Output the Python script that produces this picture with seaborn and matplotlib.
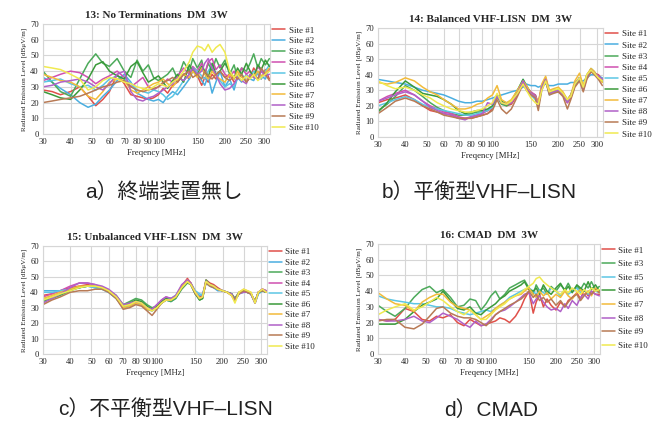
import pandas as pd
import matplotlib
matplotlib.use('Agg')
import matplotlib.pyplot as plt
from matplotlib.ticker import FixedLocator, FixedFormatter, NullLocator
import seaborn as sns

# frequency points [MHz]
freq = [30, 33, 36, 40, 44, 48, 52, 56, 60, 65,
        70, 75, 80, 85, 90, 95, 100, 105, 110, 116,
        122, 130, 138, 143, 150, 157, 162, 168, 175, 182,
        190, 200, 210, 220, 228, 238, 250, 260, 270, 282,
        292, 305, 318]

site_names = ['Site #1', 'Site #2', 'Site #3', 'Site #4', 'Site #5',
              'Site #6', 'Site #7', 'Site #8', 'Site #9', 'Site #10']
site_colors = ['#e0504a', '#4aaee0', '#4caa5a', '#d050b0', '#5cc6e4',
               '#3a9a3a', '#f2bb3a', '#b060c8', '#b87a55', '#f0ea50']

x_ticks = [30, 40, 50, 60, 70, 80, 90, 100, 150, 200, 250, 300]

titles = ['13: No Terminations  DM  3W', '14: Balanced VHF-LISN  DM  3W',
          '15: Unbalanced VHF-LISN  DM  3W', '16: CMAD  DM  3W']
captions = ['a）終端装置無し', 'b）平衡型VHF–LISN', 'c）不平衡型VHF–LISN', 'd）CMAD']

# 13: no terminations
a1 = [28, 27, 25, 27, 30, 24, 18, 22, 27, 38, 32, 25, 24, 23, 22, 23, 25, 29, 26, 31,
      33, 38, 35, 41, 37, 31, 36, 33, 38, 35, 40, 36, 38, 33, 35, 38, 33, 36, 42, 38, 35, 41, 35]
a2 = [36, 33, 29, 25, 20, 17, 19, 24, 28, 34, 38, 33, 26, 24, 22, 21, 22, 20, 24, 27,
      25, 30, 35, 40, 38, 34, 31, 37, 26, 33, 40, 30, 35, 28, 36, 33, 38, 35, 34, 40, 37, 35, 42]
a3 = [40, 33, 27, 24, 35, 45, 51, 45, 43, 48, 40, 36, 47, 40, 44, 36, 34, 36, 38, 42,
      35, 46, 40, 48, 42, 47, 38, 45, 40, 48, 42, 47, 38, 44, 36, 42, 40, 45, 51, 42, 48, 44, 48]
a4 = [34, 36, 38, 40, 39, 36, 32, 35, 37, 40, 36, 30, 33, 36, 30, 28, 30, 32, 35, 33,
      37, 42, 38, 43, 40, 45, 38, 46, 48, 41, 44, 38, 36, 40, 35, 42, 38, 40, 36, 43, 40, 38, 41]
a5 = [33, 34, 35, 32, 30, 31, 28, 31, 35, 37, 35, 32, 28, 27, 26, 28, 27, 25, 22, 24,
      28, 34, 38, 42, 40, 37, 35, 40, 44, 38, 34, 30, 32, 30, 36, 38, 34, 36, 40, 38, 35, 40, 44]
a6 = [27, 25, 23, 22, 28, 35, 44, 46, 40, 37, 35, 43, 46, 39, 33, 35, 37, 33, 29, 34,
      38, 33, 44, 40, 38, 43, 40, 36, 45, 38, 40, 45, 40, 35, 42, 38, 45, 40, 36, 44, 41, 47, 43]
a7 = [38, 36, 34, 33, 30, 24, 22, 27, 33, 35, 34, 28, 26, 28, 30, 32, 33, 35, 32, 30,
      34, 38, 36, 40, 36, 42, 38, 35, 40, 37, 35, 33, 38, 35, 40, 36, 34, 38, 36, 40, 37, 39, 42]
a8 = [30, 31, 33, 34, 35, 33, 30, 28, 32, 38, 40, 27, 22, 21, 23, 24, 26, 28, 30, 32,
      36, 34, 38, 42, 38, 40, 45, 48, 42, 38, 32, 28, 29, 32, 36, 34, 32, 38, 36, 35, 40, 37, 38]
a9 = [20, 21, 22, 23, 24, 26, 28, 30, 31, 33, 34, 30, 28, 27, 28, 29, 30, 33, 34, 36,
      33, 38, 40, 36, 38, 35, 40, 37, 35, 38, 40, 36, 34, 37, 35, 38, 33, 36, 38, 35, 42, 38, 34]
a10 = [43, 42, 41, 38, 35, 28, 30, 34, 36, 35, 33, 32, 30, 29, 28, 30, 32, 31, 30, 33,
       35, 40, 46, 52, 56, 55, 53, 57, 52, 55, 57, 52, 40, 36, 38, 34, 37, 35, 38, 34, 36, 38, 40]

# 14: balanced VHF-LISN
b1 = [22, 24, 25, 27, 24, 20, 17, 16, 15, 14, 12, 12, 12, 13, 14, 15, 18, 26, 22, 20,
      21, 27, 35, 32, 28, 27, 22, 32, 36, 28, 29, 29, 27, 22, 25, 33, 37, 30, 38, 42, 41, 40, 37]
b2 = [37, 36, 35, 34, 32, 30, 29, 28, 27, 25, 23, 22, 22, 23, 23, 24, 25, 26, 27, 28,
      29, 30, 32, 34, 33, 33, 32, 33, 34, 33, 33, 34, 34, 34, 35, 35, 36, 36, 38, 40, 40, 39, 38]
b3 = [17, 21, 26, 33, 30, 26, 22, 19, 17, 15, 14, 14, 15, 16, 16, 17, 19, 26, 21, 20,
      22, 29, 36, 32, 28, 27, 19, 33, 38, 28, 29, 30, 28, 23, 26, 33, 38, 32, 39, 44, 42, 38, 36]
b4 = [23, 26, 28, 30, 27, 23, 20, 18, 16, 15, 13, 12, 13, 14, 15, 17, 19, 27, 23, 21,
      22, 28, 36, 32, 29, 27, 21, 33, 37, 29, 29, 30, 28, 23, 26, 34, 38, 31, 39, 43, 41, 39, 37]
b5 = [20, 22, 24, 26, 24, 21, 19, 18, 17, 16, 15, 14, 14, 15, 16, 17, 19, 27, 23, 22,
      23, 29, 37, 33, 27, 24, 20, 31, 37, 27, 29, 30, 27, 23, 27, 34, 38, 31, 39, 43, 41, 38, 36]
b6 = [16, 22, 29, 36, 32, 28, 27, 26, 24, 21, 17, 15, 16, 17, 17, 18, 20, 27, 23, 21,
      23, 30, 37, 33, 28, 26, 20, 32, 37, 29, 30, 30, 28, 24, 27, 34, 38, 32, 40, 43, 41, 38, 36]
b7 = [35, 34, 35, 38, 36, 32, 29, 27, 24, 21, 18, 18, 19, 21, 22, 25, 27, 33, 24, 22,
      24, 30, 36, 33, 28, 26, 22, 34, 39, 30, 31, 32, 29, 24, 27, 36, 41, 33, 40, 44, 42, 38, 35]
b8 = [23, 25, 27, 29, 27, 23, 19, 17, 15, 14, 12, 11, 13, 14, 15, 22, 21, 26, 22, 21,
      22, 28, 36, 31, 28, 26, 20, 32, 37, 28, 29, 30, 27, 22, 26, 34, 38, 31, 39, 43, 41, 39, 37]
b9 = [15, 19, 23, 25, 23, 20, 18, 16, 14, 13, 12, 12, 12, 13, 14, 15, 17, 24, 18, 15,
      18, 26, 34, 30, 27, 25, 17, 30, 36, 27, 28, 29, 26, 18, 24, 32, 36, 29, 37, 42, 40, 37, 33]
b10 = [36, 33, 31, 32, 30, 27, 25, 22, 20, 18, 17, 16, 16, 17, 18, 20, 22, 28, 22, 21,
       23, 28, 34, 30, 25, 22, 21, 30, 36, 29, 30, 31, 28, 24, 26, 34, 38, 32, 40, 43, 41, 38, 36]

# 15: unbalanced VHF-LISN
c1 = [38, 39, 41, 43, 44, 45, 44, 43, 41, 37, 31, 32, 34, 33, 30, 29, 31, 34, 36, 36,
      37, 44, 49, 46, 40, 37, 38, 48, 46, 45, 43, 41, 40, 39, 36, 40, 41, 40, 39, 34, 40, 42, 41]
c2 = [41, 41, 41, 42, 43, 44, 43, 42, 40, 36, 30, 31, 33, 32, 29, 28, 30, 33, 35, 34,
      36, 43, 47, 45, 39, 38, 39, 46, 44, 43, 41, 41, 40, 39, 35, 39, 41, 40, 39, 33, 39, 41, 40]
c3 = [34, 36, 38, 41, 43, 44, 44, 43, 41, 38, 32, 34, 36, 35, 32, 30, 31, 33, 35, 34,
      36, 42, 46, 45, 39, 35, 36, 48, 45, 44, 42, 41, 40, 39, 36, 40, 41, 40, 39, 34, 40, 41, 40]
c4 = [37, 39, 41, 44, 46, 46, 45, 43, 41, 37, 31, 32, 34, 33, 30, 29, 32, 35, 37, 36,
      37, 44, 48, 46, 40, 36, 37, 47, 45, 44, 42, 41, 40, 38, 35, 39, 41, 40, 39, 33, 40, 42, 40]
c5 = [40, 40, 41, 42, 43, 44, 43, 42, 40, 36, 30, 31, 33, 32, 29, 28, 30, 33, 36, 36,
      38, 44, 47, 46, 41, 39, 38, 46, 44, 43, 42, 41, 40, 39, 35, 39, 40, 40, 39, 33, 39, 41, 40]
c6 = [35, 37, 39, 42, 43, 44, 44, 43, 41, 37, 31, 33, 35, 34, 31, 29, 31, 34, 36, 35,
      37, 43, 47, 45, 39, 35, 36, 47, 45, 44, 42, 41, 40, 39, 35, 39, 41, 40, 39, 34, 40, 41, 40]
c7 = [36, 38, 40, 42, 44, 44, 44, 43, 41, 36, 30, 31, 33, 32, 29, 28, 30, 33, 35, 35,
      37, 44, 48, 46, 40, 36, 37, 47, 45, 44, 42, 41, 40, 38, 34, 40, 42, 41, 40, 33, 40, 42, 40]
c8 = [33, 36, 39, 43, 46, 46, 45, 44, 42, 38, 32, 33, 34, 33, 30, 29, 32, 35, 37, 36,
      38, 45, 48, 46, 40, 36, 37, 47, 45, 44, 42, 41, 40, 39, 35, 39, 40, 40, 39, 33, 40, 42, 41]
c9 = [32, 35, 37, 40, 41, 41, 42, 42, 40, 36, 29, 30, 32, 31, 28, 25, 29, 33, 35, 35,
      37, 43, 47, 45, 39, 36, 37, 46, 44, 43, 42, 41, 40, 38, 35, 39, 41, 40, 39, 34, 40, 41, 40]
c10 = [35, 37, 39, 41, 43, 44, 44, 43, 41, 37, 31, 32, 34, 33, 30, 28, 30, 33, 35, 35,
       37, 43, 47, 45, 40, 36, 37, 47, 45, 44, 42, 41, 40, 38, 33, 40, 42, 41, 40, 33, 40, 42, 40]

# 16: CMAD (sites 2 and 4 not measured)
d1 = [22, 21, 22, 29, 27, 22, 21, 24, 23, 25, 20, 18, 22, 20, 18, 19, 20, 21, 23, 22,
      20, 24, 30, 35, 40, 26, 33, 38, 30, 35, 31, 28, 33, 30, 34, 36, 39, 35, 41, 37, 40, 38, 38]
d3 = [31, 27, 24, 29, 36, 41, 43, 39, 41, 36, 30, 31, 35, 34, 28, 32, 37, 40, 35, 38,
      42, 44, 46, 47, 42, 38, 44, 40, 42, 38, 43, 40, 44, 41, 45, 40, 43, 41, 45, 42, 46, 41, 43]
d5 = [37, 35, 34, 33, 32, 32, 31, 30, 30, 29, 27, 26, 25, 26, 27, 28, 27, 29, 31, 33,
      36, 38, 40, 41, 42, 40, 38, 41, 39, 38, 42, 40, 37, 41, 38, 40, 42, 39, 41, 38, 42, 40, 39]
d6 = [19, 19, 19, 22, 27, 31, 33, 35, 40, 34, 29, 28, 30, 26, 25, 28, 30, 32, 35, 37,
      40, 42, 44, 46, 41, 40, 42, 38, 44, 40, 38, 42, 45, 40, 43, 39, 44, 42, 40, 46, 41, 44, 40]
d7 = [39, 35, 32, 31, 27, 33, 36, 38, 38, 33, 30, 29, 28, 25, 22, 24, 26, 29, 31, 33,
      35, 37, 38, 40, 42, 38, 36, 40, 37, 39, 35, 38, 36, 40, 37, 35, 39, 41, 38, 40, 37, 42, 39]
d8 = [22, 21, 21, 22, 24, 21, 20, 23, 26, 24, 22, 19, 17, 21, 18, 19, 22, 25, 27, 28,
      30, 33, 36, 38, 39, 32, 35, 37, 33, 30, 28, 29, 27, 32, 29, 34, 31, 36, 38, 35, 40, 38, 37]
d9 = [21, 22, 22, 17, 16, 19, 24, 29, 30, 26, 24, 23, 23, 22, 20, 18, 21, 25, 27, 29,
      31, 33, 35, 37, 40, 36, 38, 34, 36, 33, 35, 31, 34, 30, 33, 36, 38, 34, 37, 40, 38, 41, 39]
d10 = [25, 28, 30, 32, 28, 30, 33, 36, 34, 30, 27, 25, 28, 25, 22, 22, 25, 28, 30, 32,
       35, 37, 39, 41, 43, 45, 48, 49, 46, 44, 42, 40, 38, 41, 39, 42, 40, 38, 41, 39, 42, 40, 41]

panels = [
    dict(zip(site_names, [a1, a2, a3, a4, a5, a6, a7, a8, a9, a10])),
    dict(zip(site_names, [b1, b2, b3, b4, b5, b6, b7, b8, b9, b10])),
    dict(zip(site_names, [c1, c2, c3, c4, c5, c6, c7, c8, c9, c10])),
    {'Site #1': d1, 'Site #3': d3, 'Site #5': d5, 'Site #6': d6,
     'Site #7': d7, 'Site #8': d8, 'Site #9': d9, 'Site #10': d10},
]

sns.set_style('white')
plt.rcParams['font.family'] = ['Liberation Serif', 'DejaVu Serif']

fig = plt.figure(figsize=(6.6, 4.22), dpi=100)
W, H = 660, 422
boxes = [(43, 24, 227, 110), (378, 28, 225, 109), (43, 246, 224, 108), (378, 244, 222, 110)]
leg_space = [0.28, 0.31, 0.24, 0.59]
grid_col = '#d6d6d6'
palette = dict(zip(site_names, site_colors))

for i, (data, box) in enumerate(zip(panels, boxes)):
    x0, y0, w, h = box
    ax = fig.add_axes([x0 / W, 1 - (y0 + h) / H, w / W, h / H])
    rows = []
    for name, vals in data.items():
        for f, v in zip(freq, vals):
            rows.append({'freq': f, 'level': v, 'site': name})
    df = pd.DataFrame(rows)
    sns.lineplot(data=df, x='freq', y='level', hue='site', palette=palette,
                 estimator=None, errorbar=None, linewidth=1.1, ax=ax)
    ax.set_xscale('log')
    ax.set_xlim(30, 320)
    ax.set_ylim(0, 70)
    ax.xaxis.set_major_locator(FixedLocator(x_ticks))
    ax.xaxis.set_major_formatter(FixedFormatter([str(t) for t in x_ticks]))
    ax.xaxis.set_minor_locator(NullLocator())
    ax.set_yticks(range(0, 71, 10))
    ax.grid(True, color=grid_col, linewidth=0.8)
    for sp in ax.spines.values():
        sp.set_color(grid_col)
        sp.set_linewidth(0.8)
    ax.tick_params(labelsize=6.2, length=0, pad=3)
    ax.set_xlabel('Freqency [MHz]', fontsize=6.3, labelpad=2)
    ax.set_ylabel('Radiated Emission Level [dBμV/m]', fontsize=5.1, labelpad=2)
    ax.set_title(titles[i], fontsize=8, fontweight='bold', pad=4)
    handles, labels = ax.get_legend_handles_labels()
    ax.legend(handles, labels, loc='upper left', bbox_to_anchor=(1.01, 0.98),
              frameon=False, fontsize=6.5, handlelength=1.4, handletextpad=0.4,
              labelspacing=leg_space[i], borderaxespad=0, borderpad=0)

# captions: latin letters in a Helvetica-like face, Japanese from Noto CJK
cap_pos = [(164, 192), (479, 192), (166, 409), (491, 410)]
for txt, (cx, cy) in zip(captions, cap_pos):
    fig.text(cx / W, 1 - cy / H, txt, ha='center', va='center', fontsize=15,
             color='#222222', family=['Liberation Sans', 'Noto Sans CJK JP', 'DejaVu Sans'])

plt.savefig('out.png', dpi=100)
